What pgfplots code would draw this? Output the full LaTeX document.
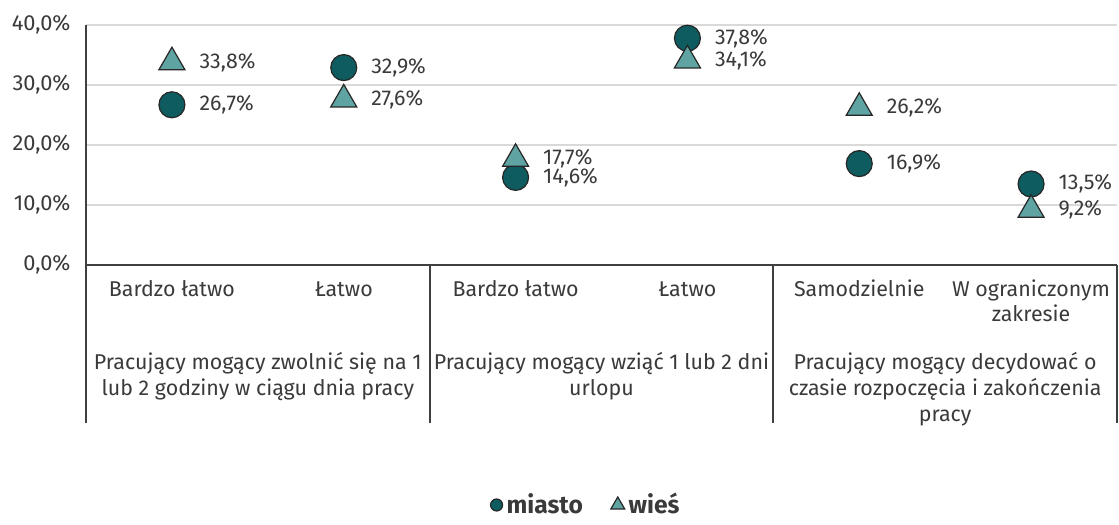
\documentclass[border=0pt]{standalone}
\usepackage{pgfplots}
\pgfplotsset{compat=1.18}
\usepackage{fontspec}
\setmainfont{Fira Sans}
\definecolor{miasto}{HTML}{0E5C5F}
\definecolor{wies}{HTML}{5FA3A3}
\definecolor{axgray}{HTML}{404040}
\definecolor{txtgray}{HTML}{3A3A3A}
\definecolor{gridgray}{HTML}{D9D9D9}
\begin{document}
\fontsize{10.7}{13}\selectfont
\begin{tikzpicture}
\begin{axis}[
  scale only axis,
  width=515.5pt, height=120pt,
  xmin=-0.5, xmax=5.5, ymin=0, ymax=40,
  axis x line*=bottom, axis y line*=left,
  axis line style={axgray, line width=1pt},
  clip=false,
  xtick={0,1,2,3,4,5},
  xticklabels={\strut Bardzo łatwo, \strut Łatwo, \strut Bardzo łatwo, \strut Łatwo, \strut Samodzielnie, {\strut W ograniczonym\\zakresie}},
  xticklabel style={align=center, anchor=north, yshift=-3pt, text=txtgray, font=\fontsize{10.7}{12.5}\selectfont},
  ytick={0,10,20,30,40},
  yticklabel={\pgfmathprintnumber[fixed,fixed zerofill,precision=1,use comma]{\tick}\%},
  yticklabel style={text=txtgray, xshift=-4pt, font=\fontsize{10.9}{13}\selectfont},
  /pgf/number format/assume math mode=true,
  major tick length=0pt,
  ymajorgrids, grid style={gridgray, line width=1pt},
  nodes near coords={\pgfmathprintnumber[fixed,fixed zerofill,precision=1,use comma]{\pgfplotspointmeta}\%},
  nodes near coords style={anchor=west, xshift=13.5pt, inner sep=0pt, text=txtgray, font=\fontsize{10.7}{12.5}\selectfont},
  legend style={at={(0.486,-1)}, anchor=center, draw=none, legend columns=2, font=\fontsize{12.3}{14}\selectfont\bfseries, text=txtgray},
  legend cell align=left,
  /tikz/every even column/.append style={column sep=12pt},
]
\addplot[only marks, mark=*, mark size=6.5pt, mark options={fill=miasto, draw=black!85, line width=0.6pt}, legend image post style={mark size=3pt}]
coordinates {(0,26.7) (1,32.9) (2,14.6) (3,37.8) (4,16.9) (5,13.5)};
\addlegendentry{miasto}
\addplot[only marks, mark=triangle*, mark size=7.5pt, mark options={fill=wies, draw=black!85, line width=0.6pt}, legend image post style={mark size=4pt}]
coordinates {(0,33.8) (1,27.6) (2,17.7) (3,34.1) (4,26.2) (5,9.2)};
\addlegendentry{wieś}
% separators
\draw[axgray, line width=1pt] (axis cs:-0.5,0) -- ++(0pt,-79pt);
\draw[axgray, line width=1pt] (axis cs:1.5,0) -- ++(0pt,-79pt);
\draw[axgray, line width=1pt] (axis cs:3.5,0) -- ++(0pt,-79pt);
\draw[axgray, line width=1pt] (axis cs:5.5,0) -- ++(0pt,-79pt);
% group labels
\node[anchor=north, align=center, text=txtgray, font=\fontsize{10.7}{13}\selectfont] at ([yshift=-40pt]axis cs:0.5,0) {Pracujący mogący zwolnić się na 1\\lub 2 godziny w ciągu dnia pracy};
\node[anchor=north, align=center, text=txtgray, font=\fontsize{10.7}{13}\selectfont] at ([yshift=-40pt]axis cs:2.5,0) {Pracujący mogący wziąć 1 lub 2 dni\\urlopu};
\node[anchor=north, align=center, text=txtgray, font=\fontsize{10.7}{13}\selectfont] at ([yshift=-40pt]axis cs:4.5,0) {Pracujący mogący decydować o\\czasie rozpoczęcia i zakończenia\\pracy};
% bounding box
\path (rel axis cs:0,0) ++(-43pt,-125.5pt) coordinate (bbA);
\path (rel axis cs:1,1) ++(1pt,12.5pt) coordinate (bbB);
\end{axis}
\useasboundingbox (bbA) rectangle (bbB);
\end{tikzpicture}
\end{document}
